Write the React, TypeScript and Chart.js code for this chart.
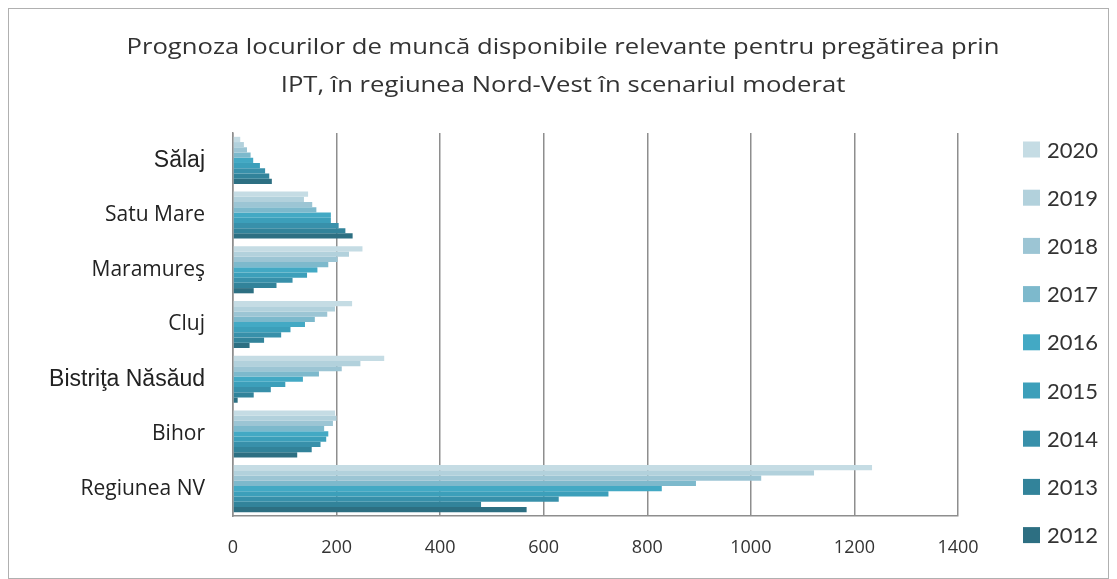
import React, { useEffect, useRef } from 'react';
import { Chart, registerables } from 'chart.js';

Chart.register(...registerables);

const categories = ['Sălaj', 'Satu Mare', 'Maramureş', 'Cluj', 'Bistriţa Năsăud', 'Bihor', 'Regiunea NV'];
const years = ['2020', '2019', '2018', '2017', '2016', '2015', '2014', '2013', '2012'];

const y2020 = [14, 145, 250, 230, 292, 197, 1234];
const y2019 = [21, 137, 224, 197, 246, 200, 1122];
const y2018 = [27, 153, 202, 182, 210, 193, 1020];
const y2017 = [34, 161, 184, 158, 166, 176, 894];
const y2016 = [39, 189, 163, 139, 135, 184, 828];
const y2015 = [52, 189, 143, 111, 101, 180, 725];
const y2014 = [62, 204, 115, 93, 73, 169, 629];
const y2013 = [70, 217, 84, 60, 40, 152, 479];
const y2012 = [75, 231, 40, 32, 9, 124, 567];

const seriesValues = [y2020, y2019, y2018, y2017, y2016, y2015, y2014, y2013, y2012];
const colors = ['#C5DCE4', '#B2D1DC', '#9CC5D4', '#7DB9CC', '#43A9C4', '#3C9FBA', '#3890AA', '#32839A', '#2D6F82'];

const xTicks = [0, 200, 400, 600, 800, 1000, 1200, 1400];

const titleLines = [
  'Prognoza locurilor de muncă disponibile relevante pentru pregătirea prin',
  'IPT, în regiunea Nord-Vest în scenariul moderat',
];

const titlePlugin = {
  id: 'stretchedTitle',
  afterDraw(chart: any) {
    const ctx = chart.ctx;
    ctx.save();
    ctx.font = '22px "Open Sans"';
    ctx.fillStyle = '#333333';
    ctx.textBaseline = 'middle';
    ctx.textAlign = 'center';
    const w0 = ctx.measureText(titleLines[0]).width;
    const sx = 873 / w0;
    const cx = 554;
    titleLines.forEach((line, i) => {
      const cy = 39 + i * 38;
      ctx.save();
      ctx.translate(cx, cy);
      ctx.scale(sx, 1);
      ctx.fillText(line, 0, 0);
      ctx.restore();
    });
    ctx.restore();
  },
};

const legendPlugin = {
  id: 'sideLegend',
  afterDraw(chart: any) {
    const ctx = chart.ctx;
    ctx.save();
    ctx.font = '22px Lato';
    ctx.textBaseline = 'middle';
    ctx.textAlign = 'left';
    chart.data.datasets.forEach((ds: any, i: number) => {
      const cy = 140.5 + i * 48.2;
      ctx.fillStyle = ds.backgroundColor;
      ctx.fillRect(1014, cy - 8, 17, 16);
      ctx.fillStyle = '#333333';
      ctx.fillText(ds.label, 1038, cy + 1);
    });
    ctx.restore();
  },
};

export default function App() {
  const ref = useRef<HTMLCanvasElement>(null);
  useEffect(() => {
    if (!ref.current) return;
    const chart = new Chart(ref.current, {
      type: 'bar',
      data: {
        labels: categories,
        datasets: years.map((y, i) => ({
          label: y,
          data: seriesValues[i],
          backgroundColor: colors[i],
          borderWidth: 0,
          categoryPercentage: 0.86,
          barPercentage: 1.0,
        })),
      },
      options: {
        indexAxis: 'y',
        animation: false,
        responsive: true,
        maintainAspectRatio: false,
        layout: { padding: { left: 0, right: 150, top: 124, bottom: 0 } },
        plugins: {
          legend: { display: false },
          tooltip: { enabled: false },
          title: { display: false },
        },
        scales: {
          x: {
            min: 0,
            max: 1400,
            afterBuildTicks: (s: any) => {
              s.ticks = xTicks.map((v) => ({ value: v }));
            },
            afterFit: (s: any) => {
              s.height = 62;
            },
            grid: { color: '#8E8E8E', lineWidth: 1.5, drawTicks: false },
            border: { color: '#8E8E8E', width: 1.5 },
            ticks: {
              color: '#333333',
              padding: 21,
              font: { family: 'Open Sans', size: 18 },
              callback: (v: any) => String(v),
            },
          },
          y: {
            afterFit: (s: any) => {
              s.width = 224;
            },
            grid: { display: false, drawTicks: false },
            border: { color: '#8E8E8E', width: 1.5 },
            ticks: {
              color: '#222222',
              padding: 28,
              font: (c: any) =>
                c.index === 0 || c.index === 4
                  ? { family: 'Liberation Sans', size: 23 }
                  : { family: 'Open Sans', size: 21 },
            },
          },
        },
      },
      plugins: [titlePlugin, legendPlugin],
    });
    return () => chart.destroy();
  }, []);
  return (
    <div style={{ width: 1101, height: 571, position: 'relative', boxSizing: 'border-box', border: '1px solid #B0B0B0' }}>
      <canvas ref={ref} />
    </div>
  );
}
